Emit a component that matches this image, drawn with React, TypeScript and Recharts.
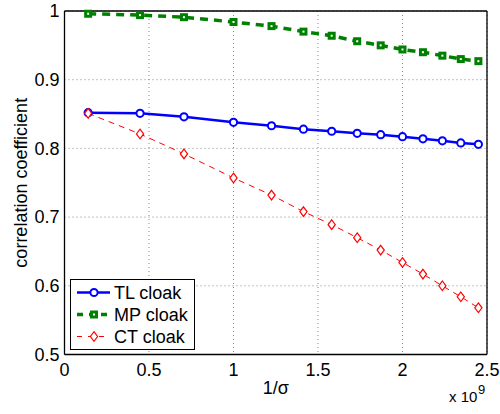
import React from 'react';
import { LineChart, Line, XAxis, YAxis, CartesianGrid, Legend, ReferenceLine, Label } from 'recharts';

const xValues = [0.14, 0.447, 0.707, 1.0, 1.225, 1.414, 1.581, 1.732, 1.871, 2.0, 2.121, 2.236, 2.345, 2.449];
const tlCloak = [0.852, 0.851, 0.846, 0.838, 0.833, 0.828, 0.825, 0.822, 0.82, 0.817, 0.814, 0.811, 0.808, 0.806];
const mpCloak = [0.996, 0.994, 0.991, 0.984, 0.978, 0.970, 0.964, 0.956, 0.950, 0.944, 0.940, 0.935, 0.930, 0.927];
const ctCloak = [0.851, 0.821, 0.792, 0.757, 0.732, 0.708, 0.689, 0.670, 0.652, 0.634, 0.617, 0.600, 0.584, 0.568];
const xTicks = [0, 0.5, 1, 1.5, 2, 2.5];
const yTicks = [0.5, 0.6, 0.7, 0.8, 0.9, 1];
const seriesNames = ['TL cloak', 'MP cloak', 'CT cloak'];

const data = xValues.map((x, i) => ({ x, tl: tlCloak[i], mp: mpCloak[i], ct: ctCloak[i] }));

const FONT = '"Liberation Sans", Arial, Helvetica, sans-serif';
const BLUE = '#0000ff';
const GREEN = '#008000';
const RED = '#ff0000';

const CircleDot = (props: any) => {
  const { cx, cy, index } = props;
  if (cx == null || cy == null) return <g key={index} />;
  return <circle key={index} cx={cx} cy={cy} r={3.6} fill="#fff" stroke={BLUE} strokeWidth={2} />;
};
const SquareDot = (props: any) => {
  const { cx, cy, index } = props;
  if (cx == null || cy == null) return <g key={index} />;
  return (
    <g key={index}>
      <rect x={cx - 4} y={cy - 4} width={8} height={8} fill={GREEN} />
      <rect x={cx - 1} y={cy - 1} width={2} height={2} fill="#fff" />
    </g>
  );
};
const DiamondDot = (props: any) => {
  const { cx, cy, index } = props;
  if (cx == null || cy == null) return <g key={index} />;
  return (
    <path key={index} d={`M${cx},${cy - 4.8} L${cx + 3.6},${cy} L${cx},${cy + 4.8} L${cx - 3.6},${cy} Z`} fill="#fff" stroke={RED} strokeWidth={1.2} />
  );
};

const renderLegend = () => (
  <svg width={126} height={72} style={{ display: 'block' }}>
    <rect x={0.5} y={0.5} width={124} height={70} fill="#fff" stroke="#000" strokeWidth={1} />
    <g>
      <line x1={7} x2={40} y1={13.5} y2={13.5} stroke={BLUE} strokeWidth={2.5} />
      <circle cx={24} cy={13.5} r={3.6} fill="#fff" stroke={BLUE} strokeWidth={2} />
      <text x={44} y={19.5} fontFamily={FONT} fontSize={18} fill="#000">{seriesNames[0]}</text>
    </g>
    <g>
      <line x1={7} x2={40} y1={35.5} y2={35.5} stroke={GREEN} strokeWidth={3.5} strokeDasharray="6 6" />
      <rect x={20} y={31.5} width={8} height={8} fill={GREEN} />
      <rect x={23} y={34.5} width={2} height={2} fill="#fff" />
      <text x={44} y={41.5} fontFamily={FONT} fontSize={18} fill="#000">{seriesNames[1]}</text>
    </g>
    <g>
      <line x1={7} x2={40} y1={57.5} y2={57.5} stroke={RED} strokeWidth={1} strokeDasharray="5 6" />
      <path d="M24,52.7 L27.6,57.5 L24,62.3 L20.4,57.5 Z" fill="#fff" stroke={RED} strokeWidth={1.2} />
      <text x={44} y={63.5} fontFamily={FONT} fontSize={18} fill="#000">{seriesNames[2]}</text>
    </g>
  </svg>
);

const yTickFmt = (v: number) => (v === 1 ? '1' : v.toFixed(1));
const xTickFmt = (v: number) => String(v);

const ExpLabel = (props: any) => {
  const vb = props.viewBox || {};
  const right = (vb.x || 0) + (vb.width || 0);
  const top = vb.y || 0;
  return (
    <text fontFamily={FONT} fill="#000">
      <tspan x={right - 38} y={top + 47} fontSize={15}>x 10</tspan>
      <tspan x={right - 9} y={top + 39.5} fontSize={13}>9</tspan>
    </text>
  );
};

const YLabel = (props: any) => {
  const vb = props.viewBox || {};
  const cy = (vb.y || 0) + (vb.height || 0) / 2;
  const cx = 21;
  return (
    <text x={cx} y={cy} transform={`rotate(-90, ${cx}, ${cy})`} textAnchor="middle" dominantBaseline="central" fontFamily={FONT} fontSize={18} fill="#000">
      correlation coefficient
    </text>
  );
};

export default function App() {
  return (
    <div style={{ position: 'absolute', left: 0, top: 0, width: 500, height: 414, background: '#fff' }}>
      <LineChart width={500} height={414} data={data} margin={{ top: 11, right: 13, bottom: 0, left: 0 }}>
        <CartesianGrid stroke="#888" strokeDasharray="1 3" strokeWidth={1} />
        <XAxis
          dataKey="x"
          type="number"
          domain={[0, 2.5]}
          ticks={xTicks}
          tickFormatter={xTickFmt}
          height={59.5}
          tickSize={0}
          tickMargin={9}
          axisLine={{ stroke: '#000', strokeWidth: 1.3 }}
          tick={{ fill: '#000', fontSize: 18, fontFamily: FONT }}
          interval={0}
        >
          <Label value="1/σ" position="insideBottom" offset={20} fill="#000" fontSize={18} fontFamily={FONT} />
          <Label content={ExpLabel} />
        </XAxis>
        <YAxis
          type="number"
          domain={[0.5, 1]}
          ticks={yTicks}
          tickFormatter={yTickFmt}
          width={64.5}
          tickSize={0}
          tickMargin={5}
          axisLine={{ stroke: '#000', strokeWidth: 1.3 }}
          tick={{ fill: '#000', fontSize: 18, fontFamily: FONT }}
          interval={0}
        >
          <Label content={YLabel} />
        </YAxis>
        <ReferenceLine y={1} stroke="#000" strokeWidth={1.3} />
        <ReferenceLine x={2.5} stroke="#000" strokeWidth={1.3} />
        <Line dataKey="tl" name={seriesNames[0]} stroke={BLUE} strokeWidth={2.5} dot={CircleDot} activeDot={false} isAnimationActive={false} />
        <Line dataKey="mp" name={seriesNames[1]} stroke={GREEN} strokeWidth={3.5} strokeDasharray="8 6" dot={SquareDot} activeDot={false} isAnimationActive={false} />
        <Line dataKey="ct" name={seriesNames[2]} stroke={RED} strokeWidth={1} strokeDasharray="6 5" dot={DiamondDot} activeDot={false} isAnimationActive={false} />
        <Legend
          layout="vertical"
          align="center"
          verticalAlign="middle"
          content={renderLegend}
          wrapperStyle={{ left: 70, top: 279, width: 126, height: 72, margin: 0, padding: 0 }}
        />
      </LineChart>
    </div>
  );
}
